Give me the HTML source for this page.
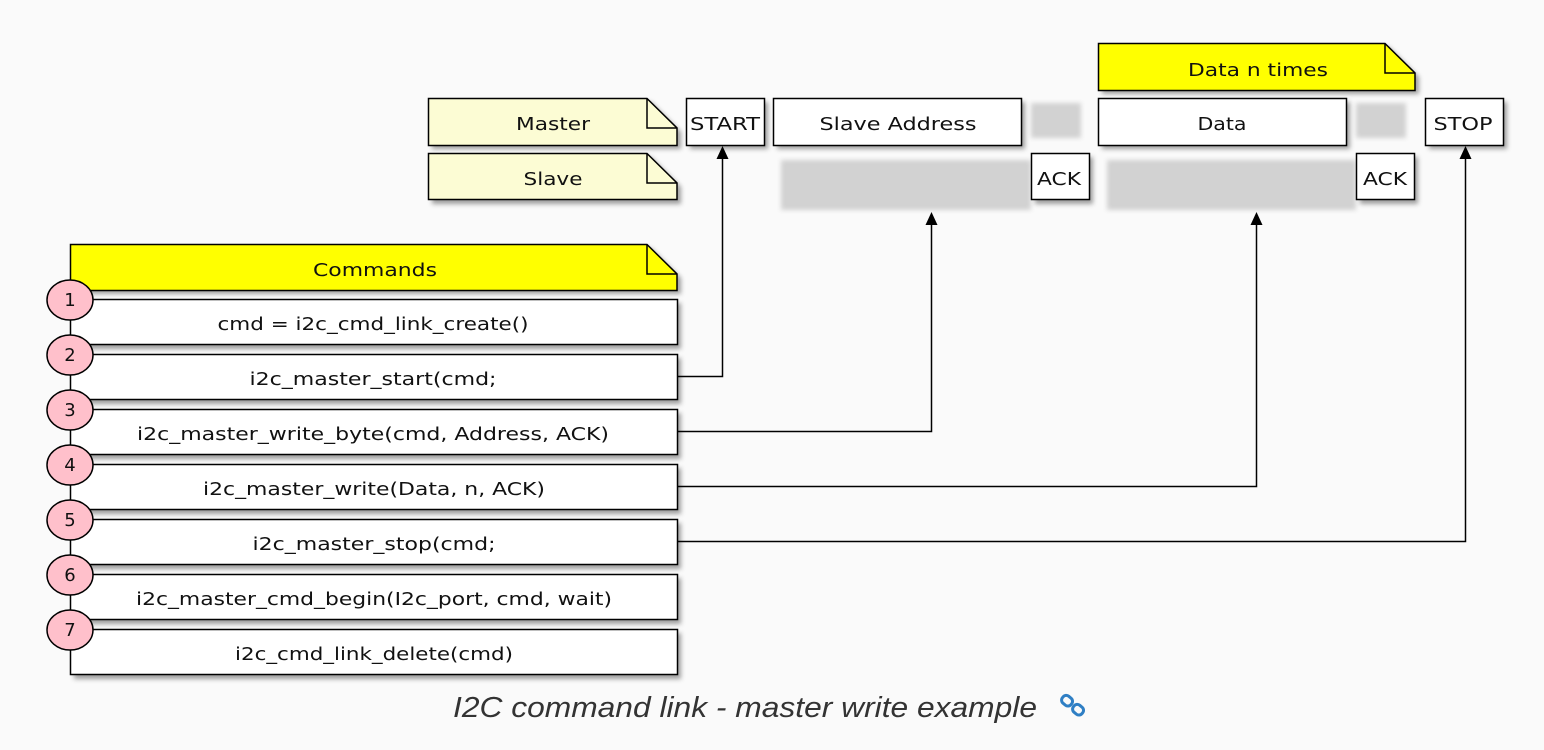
<!DOCTYPE html>
<html><head><meta charset="utf-8"><style>
html,body{margin:0;padding:0;background:#fafafa;width:1544px;height:750px;overflow:hidden}
svg text{font-family:"DejaVu Sans","Liberation Sans",sans-serif;font-size:18px;fill:#111}
</style></head><body>
<svg width="1544" height="750" xmlns="http://www.w3.org/2000/svg">
<defs>
<filter id="sh" x="-10%" y="-20%" width="130%" height="160%"><feGaussianBlur stdDeviation="2.5"/></filter>
</defs>
<rect width="1544" height="750" fill="#fafafa"/>
<g fill="#d2d2d2" filter="url(#sh)">
<rect x="1031" y="103" width="50" height="35"/>
<rect x="1356" y="103" width="50" height="35"/>
<rect x="781" y="160" width="250" height="50"/>
<rect x="1107" y="160" width="249" height="50"/>
</g>
<g fill="#777" opacity="0.7" filter="url(#sh)">
<path d="M432,102 H651 L681,132 V149 H432Z"/>
<path d="M432,157 H651 L681,187 V204 H432Z"/>
<rect x="690" y="102" width="78" height="47"/>
<rect x="777" y="102" width="248" height="47"/>
<rect x="1035" y="157" width="58" height="47"/>
<path d="M1102,47 H1389 L1419,77 V94 H1102Z"/>
<rect x="1102" y="102" width="248" height="47"/>
<rect x="1360" y="157" width="58" height="47"/>
<rect x="1429" y="102" width="78" height="47"/>
<path d="M74,248 H651 L681,278 V294 H74Z"/>
<rect x="74" y="303" width="607" height="46"/>
<rect x="74" y="358" width="607" height="46"/>
<rect x="74" y="413" width="607" height="46"/>
<rect x="74" y="468" width="607" height="46"/>
<rect x="74" y="523" width="607" height="46"/>
<rect x="74" y="578" width="607" height="46"/>
<rect x="74" y="633" width="607" height="46"/>
</g>
<g stroke="#000" stroke-width="1.5">
<path d="M428.5,98.5 H647 L677,128 V145.5 H428.5Z" fill="#fcfcd4"/>
<path d="M647,98.5 V128 H677" fill="none"/>
<path d="M428.5,153.5 H647 L677,183 V199.5 H428.5Z" fill="#fcfcd4"/>
<path d="M647,153.5 V183 H677" fill="none"/>
<path d="M1098.5,43.5 H1385 L1415,73 V90.5 H1098.5Z" fill="#ffff00"/>
<path d="M1385,43.5 V73 H1415" fill="none"/>
<path d="M70.5,244.5 H647 L677,274 V290.5 H70.5Z" fill="#ffff00"/>
<path d="M647,244.5 V274 H677" fill="none"/>
<rect x="686.5" y="98.5" width="78" height="47" fill="#fff"/>
<rect x="773.5" y="98.5" width="248" height="47" fill="#fff"/>
<rect x="1031.5" y="153.5" width="58" height="46" fill="#fff"/>
<rect x="1098.5" y="98.5" width="248" height="47" fill="#fff"/>
<rect x="1356.5" y="153.5" width="58" height="46" fill="#fff"/>
<rect x="1425.5" y="98.5" width="78" height="47" fill="#fff"/>
<rect x="70.5" y="299.5" width="607" height="45" fill="#fff"/>
<rect x="70.5" y="354.5" width="607" height="45" fill="#fff"/>
<rect x="70.5" y="409.5" width="607" height="45" fill="#fff"/>
<rect x="70.5" y="464.5" width="607" height="45" fill="#fff"/>
<rect x="70.5" y="519.5" width="607" height="45" fill="#fff"/>
<rect x="70.5" y="574.5" width="607" height="45" fill="#fff"/>
<rect x="70.5" y="629.5" width="607" height="45" fill="#fff"/>
<path d="M677,376.5 H722.5 V156" fill="none"/>
<path d="M677,431.5 H931.5 V222" fill="none"/>
<path d="M677,486.5 H1256.5 V222" fill="none"/>
<path d="M677,541.5 H1465.5 V156" fill="none"/>
<g fill="#ffc0cb">
<ellipse cx="70" cy="300" rx="23" ry="20"/>
<ellipse cx="70" cy="355" rx="23" ry="20"/>
<ellipse cx="70" cy="410" rx="23" ry="20"/>
<ellipse cx="70" cy="465" rx="23" ry="20"/>
<ellipse cx="70" cy="520" rx="23" ry="20"/>
<ellipse cx="70" cy="575" rx="23" ry="20"/>
<ellipse cx="70" cy="630" rx="23" ry="20"/>
</g>
</g>
<g fill="#000">
<path d="M722.5,146 L716.5,159 H728.5Z"/>
<path d="M931.5,212 L925.5,225 H937.5Z"/>
<path d="M1256.5,212 L1250.5,225 H1262.5Z"/>
<path d="M1465.5,146 L1459.5,159 H1471.5Z"/>
</g>
<g text-anchor="middle" lengthAdjust="spacingAndGlyphs">
<text x="553" y="130" textLength="74" lengthAdjust="spacingAndGlyphs">Master</text>
<text x="553" y="185" textLength="59" lengthAdjust="spacingAndGlyphs">Slave</text>
<text x="725" y="130" textLength="70" lengthAdjust="spacingAndGlyphs">START</text>
<text x="898" y="130" textLength="157" lengthAdjust="spacingAndGlyphs">Slave Address</text>
<text x="1059" y="185" textLength="44" lengthAdjust="spacingAndGlyphs">ACK</text>
<text x="1258" y="76" textLength="140" lengthAdjust="spacingAndGlyphs">Data n times</text>
<text x="1222" y="130" textLength="49" lengthAdjust="spacingAndGlyphs">Data</text>
<text x="1385" y="185" textLength="44" lengthAdjust="spacingAndGlyphs">ACK</text>
<text x="1463" y="130" textLength="59" lengthAdjust="spacingAndGlyphs">STOP</text>
<text x="375" y="276" textLength="124" lengthAdjust="spacingAndGlyphs">Commands</text>
<text x="373" y="330" textLength="311" lengthAdjust="spacingAndGlyphs">cmd = i2c_cmd_link_create()</text>
<text x="373" y="385" textLength="247" lengthAdjust="spacingAndGlyphs">i2c_master_start(cmd;</text>
<text x="373" y="440" textLength="472" lengthAdjust="spacingAndGlyphs">i2c_master_write_byte(cmd, Address, ACK)</text>
<text x="374" y="495" textLength="342" lengthAdjust="spacingAndGlyphs">i2c_master_write(Data, n, ACK)</text>
<text x="374" y="550" textLength="243" lengthAdjust="spacingAndGlyphs">i2c_master_stop(cmd;</text>
<text x="374" y="605" textLength="476" lengthAdjust="spacingAndGlyphs">i2c_master_cmd_begin(I2c_port, cmd, wait)</text>
<text x="374" y="660" textLength="278" lengthAdjust="spacingAndGlyphs">i2c_cmd_link_delete(cmd)</text>
<text x="70" y="306">1</text>
<text x="70" y="361">2</text>
<text x="70" y="416">3</text>
<text x="70" y="471">4</text>
<text x="70" y="526">5</text>
<text x="70" y="581">6</text>
<text x="70" y="636">7</text>
</g>
<text x="453" y="717" textLength="584" lengthAdjust="spacingAndGlyphs" style="font-family:'Liberation Sans',sans-serif;font-style:italic;font-size:29px;fill:#333">I2C command link - master write example</text>
<g stroke="#2f7fc4" stroke-width="3" fill="none">
<rect x="1062" y="696" width="11" height="9" rx="4" transform="rotate(40 1067 700)"/>
<rect x="1073" y="705" width="11" height="9" rx="4" transform="rotate(40 1078 709)"/>
</g>
</svg>
</body></html>
